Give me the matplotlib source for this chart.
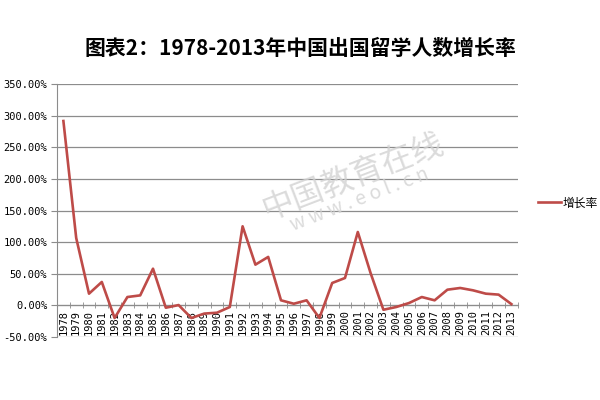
import numpy as np
import matplotlib
matplotlib.use("Agg")
import matplotlib.pyplot as plt
from matplotlib.ticker import FuncFormatter, MultipleLocator

plt.rcParams['font.family'] = ['Noto Sans CJK SC', 'DejaVu Sans']

years = [str(y) for y in range(1978, 2014)]
growth = [291.5, 106.6, 18.5, 37.0, -20.0, 13.2, 15.8, 58.0, -3.7, 0.5,
          -20.0, -13.0, -11.6, -2.6, 125.0, 64.4, 76.6, 8.0, 2.6, 8.0,
          -20.0, 35.4, 43.3, 116.0, 51.0, -6.9, -2.6, 3.7, 13.2, 8.0,
          24.8, 27.5, 23.8, 18.5, 17.0, 2.0]
series_name = '增长率'
title = '图表2：1978-2013年中国出国留学人数增长率'

line_color = '#BE4B48'
grid_color = '#8C8C8C'

fig = plt.figure(figsize=(6, 4), dpi=100)
ax = fig.add_axes([0.095, 0.1575, 0.768, 0.6325])

x = np.arange(len(years))
ax.plot(x, growth, color=line_color, linewidth=1.9, label=series_name, zorder=3)

ax.set_xlim(-0.5, len(years) - 0.5)
ax.set_ylim(-50, 350)
ax.yaxis.set_major_locator(MultipleLocator(50))
ax.yaxis.set_major_formatter(FuncFormatter(lambda v, p: f'{v:.2f}%'))
ax.grid(axis='y', color=grid_color, linewidth=0.9)
ax.set_axisbelow(True)

# category axis sits on the 0% line
ax.spines['bottom'].set_position(('data', 0))
ax.spines['bottom'].set_color(grid_color)
ax.spines['left'].set_color(grid_color)
for s in ('top', 'right'):
    ax.spines[s].set_visible(False)

ax.set_xticks(x)
ax.set_xticklabels(years, rotation=90, fontsize=7.5, family='DejaVu Sans Mono')
ax.tick_params(axis='x', which='major', length=0, pad=3)
ax.set_xticks(np.arange(-0.5, len(years)), minor=True)
ax.tick_params(axis='x', which='minor', length=4, color=grid_color, direction='inout')
ax.tick_params(axis='y', length=4, color=grid_color, labelsize=7.5, pad=3)
for lbl in ax.get_yticklabels():
    lbl.set_family('DejaVu Sans Mono')

# watermark
fig.text(0.588, 0.56, '中国教育在线', fontsize=23, color='#D2D2D2', alpha=0.8,
         rotation=21, ha='center', va='center', zorder=0)
fig.text(0.60, 0.50, 'w w w . e o l . c n', fontsize=14, color='#D2D2D2', alpha=0.8,
         rotation=21, ha='center', va='center', zorder=0)

fig.suptitle(title, x=0.5, y=0.905, fontsize=15, fontweight='bold')

ax.legend(loc='center left', bbox_to_anchor=(1.02, 0.53), frameon=False,
          fontsize=8.5, handlelength=2.0, handletextpad=0.1)

fig.savefig('out.png', dpi=100)
